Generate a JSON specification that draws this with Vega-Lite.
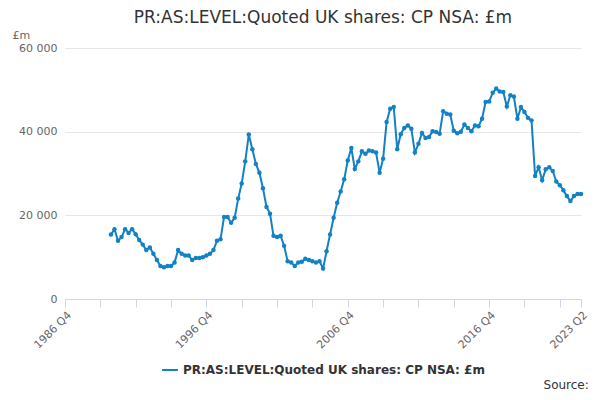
{
  "$schema": "https://vega.github.io/schema/vega-lite/v6.json",
  "background": "white",
  "padding": {"left": 12, "right": 12, "top": 9, "bottom": 2},
  "title": {"text": "Source:", "orient": "bottom", "anchor": "end", "fontSize": 12, "fontWeight": "normal", "font": "DejaVu Sans", "color": "#333333", "offset": 4},
  "resolve": {"legend": {"color": "independent"}},
  "vconcat": [
    {
      "width": 516,
      "height": 251,
      "title": {"text": "PR:AS:LEVEL:Quoted UK shares: CP NSA: £m", "anchor": "middle", "fontSize": 17, "fontWeight": "normal", "font": "DejaVu Sans", "color": "#333333", "offset": 2},
      "data": {
        "values": [
          {"d": "1990-01-01", "v": 15400}, {"d": "1990-04-01", "v": 16700}, {"d": "1990-07-01", "v": 13900}, {"d": "1990-10-01", "v": 14800},
          {"d": "1991-01-01", "v": 16700}, {"d": "1991-04-01", "v": 15800}, {"d": "1991-07-01", "v": 16700}, {"d": "1991-10-01", "v": 15500},
          {"d": "1992-01-01", "v": 14100}, {"d": "1992-04-01", "v": 13000}, {"d": "1992-07-01", "v": 11700}, {"d": "1992-10-01", "v": 12300},
          {"d": "1993-01-01", "v": 10800}, {"d": "1993-04-01", "v": 9300}, {"d": "1993-07-01", "v": 7900}, {"d": "1993-10-01", "v": 7600},
          {"d": "1994-01-01", "v": 7900}, {"d": "1994-04-01", "v": 7900}, {"d": "1994-07-01", "v": 8700}, {"d": "1994-10-01", "v": 11700},
          {"d": "1995-01-01", "v": 10800}, {"d": "1995-04-01", "v": 10400}, {"d": "1995-07-01", "v": 10400}, {"d": "1995-10-01", "v": 9300},
          {"d": "1996-01-01", "v": 9800}, {"d": "1996-04-01", "v": 9800}, {"d": "1996-07-01", "v": 10000}, {"d": "1996-10-01", "v": 10400},
          {"d": "1997-01-01", "v": 10800}, {"d": "1997-04-01", "v": 11700}, {"d": "1997-07-01", "v": 13900}, {"d": "1997-10-01", "v": 14300},
          {"d": "1998-01-01", "v": 19600}, {"d": "1998-04-01", "v": 19600}, {"d": "1998-07-01", "v": 18200}, {"d": "1998-10-01", "v": 19400},
          {"d": "1999-01-01", "v": 24000}, {"d": "1999-04-01", "v": 27600}, {"d": "1999-07-01", "v": 32900}, {"d": "1999-10-01", "v": 39300},
          {"d": "2000-01-01", "v": 35800}, {"d": "2000-04-01", "v": 32300}, {"d": "2000-07-01", "v": 30200}, {"d": "2000-10-01", "v": 26500},
          {"d": "2001-01-01", "v": 22000}, {"d": "2001-04-01", "v": 20400}, {"d": "2001-07-01", "v": 15100}, {"d": "2001-10-01", "v": 14800},
          {"d": "2002-01-01", "v": 15100}, {"d": "2002-04-01", "v": 12700}, {"d": "2002-07-01", "v": 9000}, {"d": "2002-10-01", "v": 8700},
          {"d": "2003-01-01", "v": 7900}, {"d": "2003-04-01", "v": 8700}, {"d": "2003-07-01", "v": 8900}, {"d": "2003-10-01", "v": 9600},
          {"d": "2004-01-01", "v": 9300}, {"d": "2004-04-01", "v": 9000}, {"d": "2004-07-01", "v": 8700}, {"d": "2004-10-01", "v": 9000},
          {"d": "2005-01-01", "v": 7300}, {"d": "2005-04-01", "v": 11400}, {"d": "2005-07-01", "v": 15400}, {"d": "2005-10-01", "v": 19400},
          {"d": "2006-01-01", "v": 23000}, {"d": "2006-04-01", "v": 25700}, {"d": "2006-07-01", "v": 28600}, {"d": "2006-10-01", "v": 33100},
          {"d": "2007-01-01", "v": 36100}, {"d": "2007-04-01", "v": 31100}, {"d": "2007-07-01", "v": 32900}, {"d": "2007-10-01", "v": 35300},
          {"d": "2008-01-01", "v": 34700}, {"d": "2008-04-01", "v": 35500}, {"d": "2008-07-01", "v": 35300}, {"d": "2008-10-01", "v": 35000},
          {"d": "2009-01-01", "v": 30200}, {"d": "2009-04-01", "v": 33500}, {"d": "2009-07-01", "v": 42300}, {"d": "2009-10-01", "v": 45500},
          {"d": "2010-01-01", "v": 45900}, {"d": "2010-04-01", "v": 35800}, {"d": "2010-07-01", "v": 39400}, {"d": "2010-10-01", "v": 40900},
          {"d": "2011-01-01", "v": 41500}, {"d": "2011-04-01", "v": 40700}, {"d": "2011-07-01", "v": 35000}, {"d": "2011-10-01", "v": 37100},
          {"d": "2012-01-01", "v": 39700}, {"d": "2012-04-01", "v": 38500}, {"d": "2012-07-01", "v": 38700}, {"d": "2012-10-01", "v": 40100},
          {"d": "2013-01-01", "v": 39900}, {"d": "2013-04-01", "v": 39500}, {"d": "2013-07-01", "v": 44900}, {"d": "2013-10-01", "v": 44300},
          {"d": "2014-01-01", "v": 44100}, {"d": "2014-04-01", "v": 40200}, {"d": "2014-07-01", "v": 39600}, {"d": "2014-10-01", "v": 40000},
          {"d": "2015-01-01", "v": 41700}, {"d": "2015-04-01", "v": 40900}, {"d": "2015-07-01", "v": 40100}, {"d": "2015-10-01", "v": 41500},
          {"d": "2016-01-01", "v": 41300}, {"d": "2016-04-01", "v": 43100}, {"d": "2016-07-01", "v": 47100}, {"d": "2016-10-01", "v": 47200},
          {"d": "2017-01-01", "v": 49300}, {"d": "2017-04-01", "v": 50300}, {"d": "2017-07-01", "v": 49600}, {"d": "2017-10-01", "v": 49500},
          {"d": "2018-01-01", "v": 46000}, {"d": "2018-04-01", "v": 48700}, {"d": "2018-07-01", "v": 48400}, {"d": "2018-10-01", "v": 43100},
          {"d": "2019-01-01", "v": 45900}, {"d": "2019-04-01", "v": 44700}, {"d": "2019-07-01", "v": 43300}, {"d": "2019-10-01", "v": 42700},
          {"d": "2020-01-01", "v": 29400}, {"d": "2020-04-01", "v": 31500}, {"d": "2020-07-01", "v": 28400}, {"d": "2020-10-01", "v": 31000},
          {"d": "2021-01-01", "v": 31500}, {"d": "2021-04-01", "v": 30600}, {"d": "2021-07-01", "v": 28100}, {"d": "2021-10-01", "v": 27200},
          {"d": "2022-01-01", "v": 26000}, {"d": "2022-04-01", "v": 24600}, {"d": "2022-07-01", "v": 23400}, {"d": "2022-10-01", "v": 24600},
          {"d": "2023-01-01", "v": 25100}, {"d": "2023-04-01", "v": 25100}
        ]
      },
      "mark": {"type": "line", "strokeWidth": 2, "point": {"size": 20, "filled": true}},
      "encoding": {
        "x": {
          "field": "d",
          "type": "temporal",
          "scale": {"type": "utc", "domain": [{"year": 1986, "month": 10, "date": 1, "utc": true}, {"year": 2023, "month": 4, "date": 1, "utc": true}]},
          "axis": {
            "title": null,
            "values": [
              {"year": 1986, "month": 10, "date": 1, "utc": true}, {"year": 1989, "month": 4, "date": 1, "utc": true},
              {"year": 1991, "month": 10, "date": 1, "utc": true}, {"year": 1994, "month": 4, "date": 1, "utc": true},
              {"year": 1996, "month": 10, "date": 1, "utc": true}, {"year": 1999, "month": 4, "date": 1, "utc": true},
              {"year": 2001, "month": 10, "date": 1, "utc": true}, {"year": 2004, "month": 4, "date": 1, "utc": true},
              {"year": 2006, "month": 10, "date": 1, "utc": true}, {"year": 2009, "month": 4, "date": 1, "utc": true},
              {"year": 2011, "month": 10, "date": 1, "utc": true}, {"year": 2014, "month": 4, "date": 1, "utc": true},
              {"year": 2016, "month": 10, "date": 1, "utc": true}, {"year": 2019, "month": 4, "date": 1, "utc": true},
              {"year": 2021, "month": 10, "date": 1, "utc": true}, {"year": 2023, "month": 4, "date": 1, "utc": true}
            ],
            "labelExpr": "(utcmonth(datum.value) == 9 && utcyear(datum.value) % 10 == 6) || utcyear(datum.value) == 2023 ? utcyear(datum.value) + ' Q' + (floor(utcmonth(datum.value) / 3) + 1) : ''",
            "labelAngle": -45,
            "labelFontSize": 11,
            "labelColor": "#666666",
            "labelFont": "DejaVu Sans",
            "labelOverlap": false,
            "labelBound": false,
            "grid": false,
            "domainColor": "#ccd6eb",
            "tickColor": "#ccd6eb",
            "tickSize": 8
          }
        },
        "y": {
          "field": "v",
          "type": "quantitative",
          "scale": {"domain": [0, 60000]},
          "axis": {
            "title": "£m",
            "titleAngle": 0,
            "titleAnchor": "end",
            "titleAlign": "left",
            "titleBaseline": "bottom",
            "titleX": -53,
            "titleY": -8,
            "titleFontWeight": "normal",
            "titleFontSize": 11,
            "titleColor": "#666666",
            "titleFont": "DejaVu Sans",
            "values": [0, 20000, 40000, 60000],
            "labelExpr": "replace(format(datum.value, ','), ',', ' ')",
            "labelFontSize": 11,
            "labelColor": "#666666",
            "labelFont": "DejaVu Sans",
            "labelPadding": 8,
            "domain": false,
            "ticks": false,
            "gridColor": "#e6e6e6"
          }
        },
        "color": {
          "datum": "PR:AS:LEVEL:Quoted UK shares: CP NSA: £m",
          "type": "nominal",
          "scale": {"range": ["#1281c5"]},
          "legend": {
            "title": null,
            "orient": "bottom",
            "direction": "horizontal",
            "symbolType": "stroke",
            "symbolStrokeWidth": 2,
            "symbolSize": 250,
            "labelFontSize": 12,
            "labelFontWeight": "bold",
            "labelColor": "#333333",
            "labelFont": "DejaVu Sans",
            "labelLimit": 400,
            "offset": 10
          }
        }
      }
    }
  ],
  "config": {"view": {"stroke": null}, "legend": {"layout": {"bottom": {"anchor": "middle"}}}}
}
